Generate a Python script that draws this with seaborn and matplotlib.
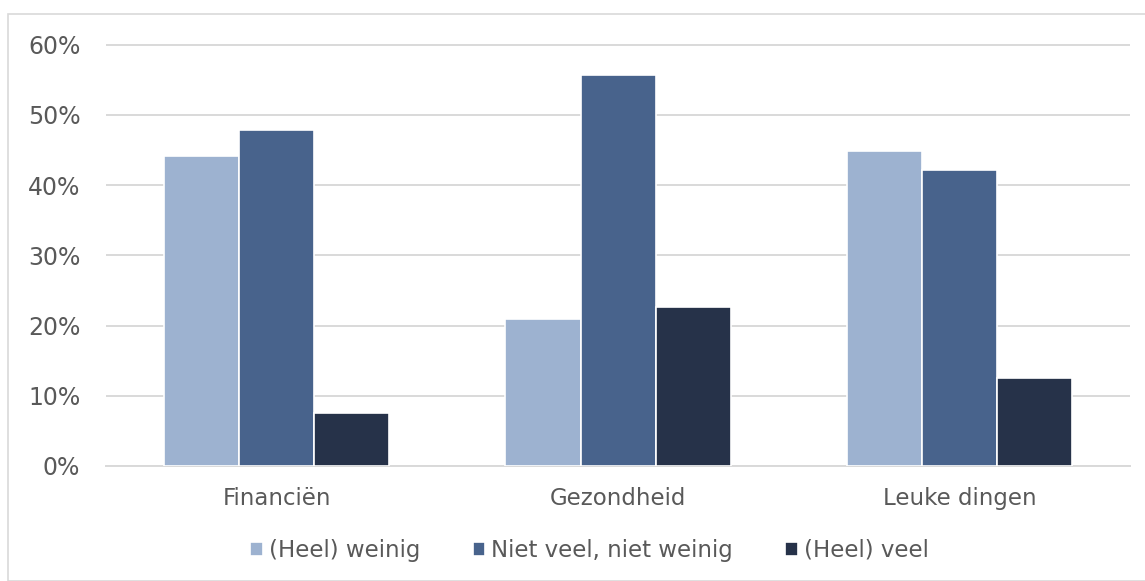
import matplotlib.pyplot as plt
import pandas as pd
import seaborn as sns
from matplotlib.patches import Rectangle
from matplotlib.ticker import FuncFormatter, MultipleLocator

categories = ["Financiën", "Gezondheid", "Leuke dingen"]
series = ["(Heel) weinig", "Niet veel, niet weinig", "(Heel) veel"]
weinig = [44.1, 21.0, 44.8]
neutraal = [47.9, 55.7, 42.2]
veel = [7.5, 22.7, 12.5]
colors = ["#9DB2D0", "#48638C", "#263249"]

df = pd.DataFrame({
    "categorie": categories * 3,
    "reeks": [s for s in series for _ in categories],
    "waarde": weinig + neutraal + veel,
})

sns.set_style("white")
plt.rcParams["font.family"] = ["DejaVu Sans"]
text_color = "#595959"

fig = plt.figure(figsize=(11.45, 5.81), dpi=100)
ax = fig.add_axes([0.0926, 0.198, 0.8944, 0.7257])

sns.barplot(
    data=df, x="categorie", y="waarde", hue="reeks",
    hue_order=series, order=categories, palette=colors, saturation=1,
    width=0.66, edgecolor="white", linewidth=1.2, ax=ax, zorder=3,
)

ax.set_ylim(0, 60.05)
ax.yaxis.set_major_locator(MultipleLocator(10))
ax.yaxis.set_major_formatter(FuncFormatter(lambda v, _: f"{v:.0f}%"))
ax.grid(axis="y", color="#D9D9D9", linewidth=1.4, zorder=0)
ax.set_axisbelow(True)
for side in ["top", "right", "left"]:
    ax.spines[side].set_visible(False)
ax.spines["bottom"].set_color("#D9D9D9")
ax.spines["bottom"].set_linewidth(1.4)
ax.set_xlabel("")
ax.set_ylabel("")
ax.tick_params(axis="y", length=0, labelsize=17, labelcolor=text_color, pad=18.5)
ax.tick_params(axis="x", length=0, labelsize=16.5, labelcolor=text_color, pad=15)

handles, labels = ax.get_legend_handles_labels()
ax.legend(
    handles, labels, loc="center", bbox_to_anchor=(0.472, -0.2),
    ncol=3, frameon=False, fontsize=16.5, labelcolor=text_color,
    handlelength=0.55, handleheight=0.55, handletextpad=0.25, columnspacing=2.3,
)

# chart area border
fig.patches.append(Rectangle((8 / 1145, 0), 1.2, (581 - 14) / 581,
                             transform=fig.transFigure, fill=False,
                             edgecolor="#D9D9D9", linewidth=1.2))

fig.savefig("out.png", dpi=100)
